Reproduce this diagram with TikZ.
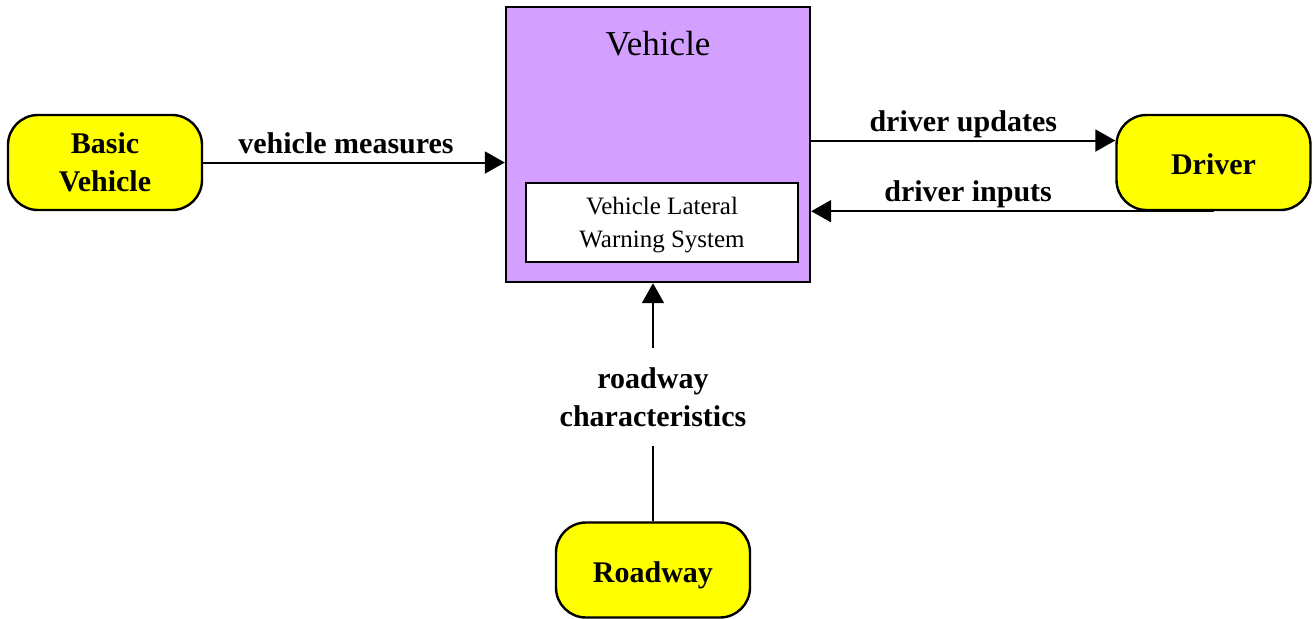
\documentclass[tikz,border=0pt]{standalone}
\usepackage{fontspec}
\setmainfont{Liberation Serif}
\usetikzlibrary{arrows.meta,positioning,calc}
\definecolor{vehpurple}{RGB}{212,160,255}
\definecolor{extyellow}{RGB}{255,255,0}
\tikzset{
  extbox/.style={draw=black, line width=1.2pt, fill=extyellow, rounded corners=15pt,
                 minimum width=97pt, minimum height=47.5pt, align=center,
                 text height=12pt, text depth=0pt,
                 font=\fontsize{15}{19}\selectfont\bfseries},
  vehbox/.style={draw=black, line width=1.2pt, fill=vehpurple,
                 minimum width=152pt, minimum height=137.5pt},
  sysbox/.style={draw=black, line width=1pt, fill=white, align=center,
                 minimum width=136pt, minimum height=39.5pt, text depth=0pt,
                 font=\fontsize{12.5}{16.5}\selectfont},
  flow/.style={-{Triangle[length=10pt,width=11pt]}, line width=1pt},
  flowlab/.style={font=\fontsize{15}{19}\selectfont\bfseries, text depth=0pt, inner sep=4pt},
}
\begin{document}
\begin{tikzpicture}[x=0.5pt, y=-0.5pt]
    \useasboundingbox (0,0) rectangle (1314,618);
    % boxes
    \node[vehbox] (veh) at (658,144.5) {};
    \node[anchor=base, font=\fontsize{17.5}{21}\selectfont] (vtitle) at ([yshift=-25pt]veh.north) {Vehicle};
    \node[sysbox] (vlws) at (662,222.5) {Vehicle Lateral\\Warning System};
    \node[extbox, text height={}, text depth={}] (bveh) at (105,162.5) {Basic\\Vehicle};
    \node[extbox] (drv) at (1213.5,162.5) {Driver};
    \node[extbox] (road) at (653,570) {Roadway};
    \node[flowlab, align=center, minimum height=49pt, inner sep=0pt] (rclab) at (653,397) {roadway\\characteristics};
    % flows
    \draw[flow] (bveh.east) -- (bveh.east -| veh.west)
      node[midway, above, flowlab, xshift=-4pt] {vehicle measures};
    \draw[flow] ([yshift=2pt]veh.east) -- ([yshift=2pt]veh.east -| drv.west)
      node[midway, above, flowlab] {driver updates};
    \draw[flow] (drv.south) -- (drv.south -| veh.east)
      node[pos=0.61, above, flowlab, inner sep=4.5pt] {driver inputs};
    \draw[line width=1pt] (road) -- (rclab);
    \draw[flow] (rclab) -- (rclab |- veh.south);
\end{tikzpicture}
\end{document}
